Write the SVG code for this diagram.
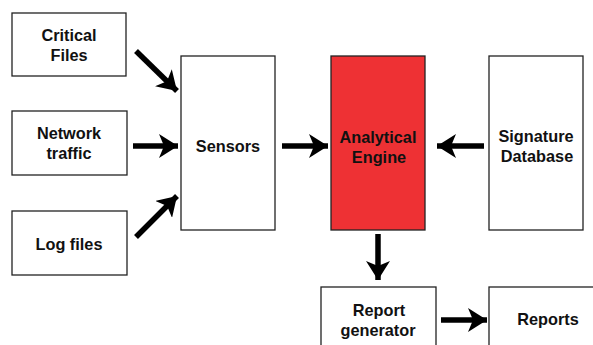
<svg xmlns="http://www.w3.org/2000/svg" width="593" height="345" viewBox="0 0 593 345">
<style>
.box{fill:#fff;stroke:#222;stroke-width:1.3}
.red{fill:#ee3134;stroke:#222;stroke-width:1.3}
text{font-family:"Liberation Sans",Arial,sans-serif;font-weight:bold;font-size:16.3px;fill:#111;text-anchor:middle}
.c line{stroke:#000;stroke-width:5.5;marker-end:url(#ah)}
</style>
<defs>
<marker id="ah" markerUnits="userSpaceOnUse" markerWidth="21" markerHeight="24" viewBox="0 0 21 24" refX="19" refY="12" orient="auto">
<path d="M0,0 L19,12 L0,24 L5,12 Z" fill="#000"/>
</marker>
</defs>
<rect width="593" height="345" fill="#fff"/>
<g id="critical"><rect class="box" x="12" y="13" width="114" height="63"/><text x="69" y="41">Critical</text><text x="69" y="61">Files</text></g>
<g id="network"><rect class="box" x="12" y="111" width="115" height="64"/><text x="69" y="139">Network</text><text x="69" y="159">traffic</text></g>
<g id="logfiles"><rect class="box" x="12" y="211" width="115" height="64"/><text x="69" y="250">Log files</text></g>
<g id="sensors"><rect class="box" x="181" y="56" width="94" height="174"/><text x="228" y="152">Sensors</text></g>
<g id="engine"><rect class="red" x="331" y="56" width="94" height="174"/><text x="378" y="143">Analytical</text><text x="379" y="163">Engine</text></g>
<g id="signature"><rect class="box" x="489" y="56" width="94" height="174"/><text x="536" y="142">Signature</text><text x="537" y="162">Database</text></g>
<g id="reportgen"><rect class="box" x="321" y="287" width="115" height="70"/><text x="379" y="316">Report</text><text x="378" y="336">generator</text></g>
<g id="reports"><rect class="box" x="489" y="287" width="110" height="70"/><text x="548" y="325">Reports</text></g>
<g class="c" id="connectors">
<line x1="136" y1="51" x2="177" y2="91"/>
<line x1="133" y1="146" x2="178" y2="146"/>
<line x1="136" y1="237" x2="177" y2="196"/>
<line x1="282" y1="146" x2="328" y2="146"/>
<line x1="484" y1="146" x2="437" y2="146"/>
<line x1="378" y1="234" x2="378" y2="280"/>
<line x1="441" y1="320" x2="487" y2="320"/>
</g>
</svg>
